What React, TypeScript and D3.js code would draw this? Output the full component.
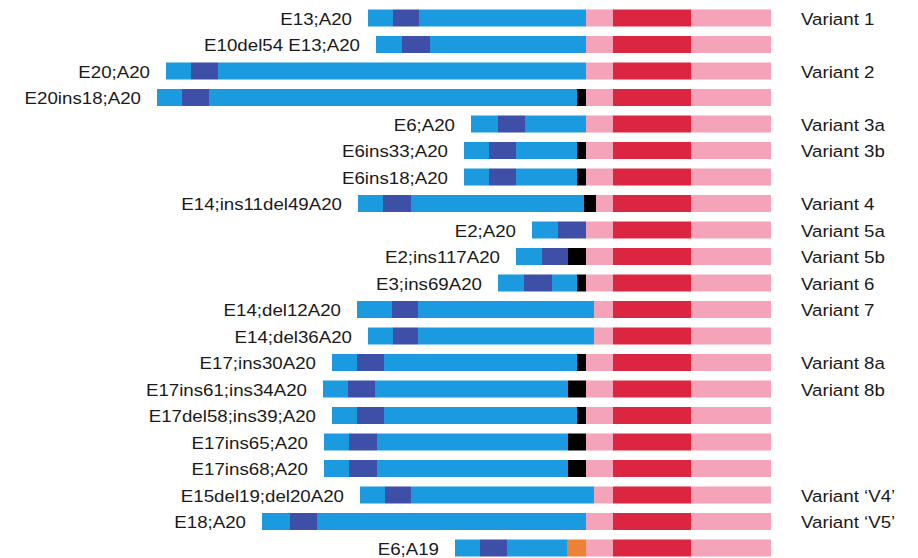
import React from "react";
import * as d3 from "d3";

// Fusion variant labels (left) and variant names (right)
const fusions = [
  "E13;A20", "E10del54 E13;A20", "E20;A20", "E20ins18;A20", "E6;A20",
  "E6ins33;A20", "E6ins18;A20", "E14;ins11del49A20", "E2;A20", "E2;ins117A20",
  "E3;ins69A20", "E14;del12A20", "E14;del36A20", "E17;ins30A20", "E17ins61;ins34A20",
  "E17del58;ins39;A20", "E17ins65;A20", "E17ins68;A20", "E15del19;del20A20", "E18;A20",
  "E6;A19",
];
const variantNames = [
  "Variant 1", "", "Variant 2", "", "Variant 3a",
  "Variant 3b", "", "Variant 4", "Variant 5a", "Variant 5b",
  "Variant 6", "Variant 7", "", "Variant 8a", "Variant 8b",
  "", "", "", "Variant \u2018V4\u2019", "Variant \u2018V5\u2019",
  "",
];
// Segment boundaries along the fusion (position units)
const starts = [368, 376, 166, 157, 471, 464, 464, 358, 532, 516, 498, 357, 368, 332, 323, 332, 324, 324, 360, 262, 455];
const darkStarts = [393, 402, 191, 182, 498, 489, 489, 383, 558, 542, 524, 392, 393, 357, 348, 357, 349, 349, 385, 290, 480];
const darkEnds = [419, 430, 218, 209, 525, 516, 516, 411, 586, 568, 552, 418, 418, 384, 375, 384, 377, 377, 411, 317, 507];
const blueEnds = [586, 586, 586, 577, 586, 577, 577, 584, 586, 568, 577, 594, 594, 577, 568, 577, 568, 568, 594, 586, 567];
const insertEnds = [586, 586, 586, 586, 586, 586, 586, 596, 586, 586, 586, 594, 594, 586, 586, 586, 586, 586, 594, 586, 586];
const insertTypes = ["", "", "", "ins", "", "ins", "ins", "ins", "", "ins", "ins", "", "", "ins", "ins", "ins", "ins", "ins", "", "", "alt"];
// ALK domain boundaries
const alkStart = 586;
const kinaseStart = 613;
const kinaseEnd = 691;
const alkEnd = 771;

const COLORS = {
  blue: "#1b9ae0",
  dark: "#3d4fa6",
  ins: "#000000",
  alt: "#ee8234",
  pink: "#f5a3b8",
  red: "#dc2540",
  text: "#1a1a1a",
};

export default function App() {
  const W = 918;
  const H = 558;
  const x = d3.scaleLinear().domain([0, 918]).range([0, 918]);
  const idx = d3.range(fusions.length);
  const y = d3.scalePoint<number>().domain(idx).range([18, 548]);
  const bh = 17;
  const fs = 17;
  const sx = 1.1;

  return (
    <svg
      width={W}
      height={H}
      style={{ position: "absolute", left: 0, top: 0, display: "block", background: "#fff" }}
      fontFamily="'Liberation Sans', Arial, Helvetica, sans-serif"
    >
      {idx.map((i) => {
        const cy = y(i)!;
        const top = cy - bh / 2;
        const segs: [number, number, string][] = [
          [starts[i], darkStarts[i], COLORS.blue],
          [darkStarts[i], darkEnds[i], COLORS.dark],
          [darkEnds[i], blueEnds[i], COLORS.blue],
        ];
        if (insertTypes[i]) {
          segs.push([blueEnds[i], insertEnds[i], insertTypes[i] === "alt" ? COLORS.alt : COLORS.ins]);
        }
        segs.push([Math.max(alkStart, insertEnds[i]), kinaseStart, COLORS.pink]);
        segs.push([kinaseStart, kinaseEnd, COLORS.red]);
        segs.push([kinaseEnd, alkEnd, COLORS.pink]);
        return (
          <g key={i}>
            {segs
              .filter((s) => s[1] > s[0])
              .map((s, k) => (
                <rect
                  key={k}
                  x={x(s[0])}
                  y={top}
                  width={x(s[1]) - x(s[0])}
                  height={bh}
                  fill={s[2]}
                />
              ))}
            <g transform={`translate(${x(starts[i]) - 16},${cy + 1}) scale(${sx},1)`}>
              <text textAnchor="end" dominantBaseline="central" fontSize={fs} fill={COLORS.text}>
                {fusions[i]}
              </text>
            </g>
            {variantNames[i] && (
              <g transform={`translate(801,${cy + 1}) scale(${sx},1)`}>
                <text textAnchor="start" dominantBaseline="central" fontSize={fs} fill={COLORS.text}>
                  {variantNames[i]}
                </text>
              </g>
            )}
          </g>
        );
      })}
    </svg>
  );
}
